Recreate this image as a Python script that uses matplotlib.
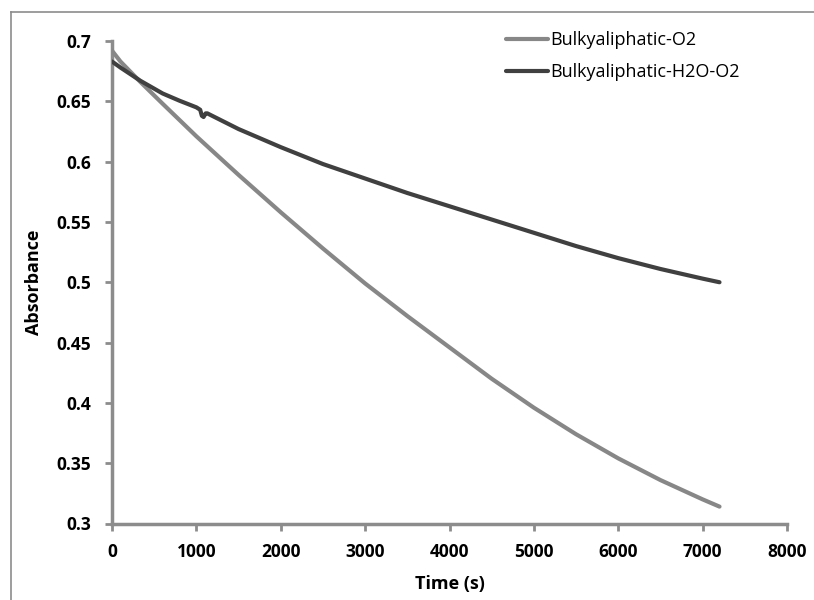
"""
Absorbance decay of bulky aliphatic films under O2 and H2O/O2
"""

import matplotlib
matplotlib.use('Agg')
import matplotlib.pyplot as plt
import matplotlib.lines as mlines

#---------------------------------------------------------------------------------------------------
# Data
#---------------------------------------------------------------------------------------------------

# Bulkyaliphatic-O2
t_o2 = [0, 100, 337, 600, 1000, 1500, 2000, 2500, 3000, 3500, 4000, 4500, 5000, 5500, 6000,
        6500, 7000, 7200]
abs_o2 = [0.692, 0.683, 0.666, 0.648, 0.621, 0.589, 0.558, 0.528, 0.499, 0.472, 0.446, 0.420,
          0.396, 0.374, 0.354, 0.336, 0.320, 0.314]

# Bulkyaliphatic-H2O-O2 (small dip near 1050 s)
t_h2o = [0, 100, 337, 600, 800, 1000, 1045, 1065, 1085, 1110, 1130, 1500, 2000, 2500, 3000,
         3500, 4000, 4500, 5000, 5500, 6000, 6500, 7000, 7200]
abs_h2o = [0.683, 0.678, 0.667, 0.6565, 0.6505, 0.645, 0.643, 0.638, 0.637, 0.640, 0.640, 0.627,
           0.612, 0.598, 0.586, 0.574, 0.563, 0.552, 0.541, 0.530, 0.520, 0.511, 0.503, 0.500]

labels = ['Bulkyaliphatic-O2', 'Bulkyaliphatic-H2O-O2']
colors = ['#878787', '#404040']

xticks = [0, 1000, 2000, 3000, 4000, 5000, 6000, 7000, 8000]
yticks = [0.3, 0.35, 0.4, 0.45, 0.5, 0.55, 0.6, 0.65, 0.7]
ytick_labels = ['0.3', '0.35', '0.4', '0.45', '0.5', '0.55', '0.6', '0.65', '0.7']

#---------------------------------------------------------------------------------------------------
# Plot
#---------------------------------------------------------------------------------------------------

plt.rcParams['font.family'] = ['Open Sans', 'DejaVu Sans']
axis_gray = '#8c8c8c'

fig = plt.figure(figsize=(8.14, 6.0), dpi=100)
W, H = 814, 600
ax = fig.add_axes([112 / W, 1 - 523.5 / H, (787 - 112) / W, (523.5 - 41) / H])

# Outer chart border (only top and left edges fall inside the image)
fig.add_artist(mlines.Line2D([10.5 / W, 10.5 / W], [0, 1 - 12 / H], color=axis_gray, lw=1.2))
fig.add_artist(mlines.Line2D([10.5 / W, 1], [1 - 12 / H, 1 - 12 / H], color=axis_gray, lw=1.2))

ax.plot(t_o2, abs_o2, color=colors[0], lw=3, label=labels[0], solid_capstyle='round')
ax.plot(t_h2o, abs_h2o, color=colors[1], lw=3, label=labels[1], solid_capstyle='round')

for side in ['top', 'right']:
    ax.spines[side].set_visible(False)
for side in ['left', 'bottom']:
    ax.spines[side].set_color(axis_gray)
    ax.spines[side].set_linewidth(2.5)
    ax.spines[side].set_zorder(1)

ax.tick_params(axis='both', which='major', direction='out', length=5, width=2.0,
               color=axis_gray)
ax.tick_params(axis='y', pad=10)
ax.tick_params(axis='x', pad=9)

ax.set_xlim(0, 8000)
ax.set_ylim(0.3, 0.7)
ax.set_xticks(xticks)
ax.set_xticklabels([str(x) for x in xticks], fontsize=12.5, fontweight='bold')
ax.set_yticks(yticks)
ax.set_yticklabels(ytick_labels, fontsize=12.5, fontweight='bold')

ax.set_xlabel('Time (s)', fontsize=13, fontweight='bold', labelpad=10)
ax.set_ylabel('Absorbance', fontsize=13, fontweight='bold', labelpad=10)

leg = ax.legend(loc='upper left', bbox_to_anchor=(506 / W, 1 - 31 / H), bbox_transform=fig.transFigure,
                frameon=False, fontsize=13, handlelength=2.3, handletextpad=0.15,
                labelspacing=0.78, borderaxespad=0, borderpad=0)

plt.savefig('out.png', dpi=100)
plt.close()
